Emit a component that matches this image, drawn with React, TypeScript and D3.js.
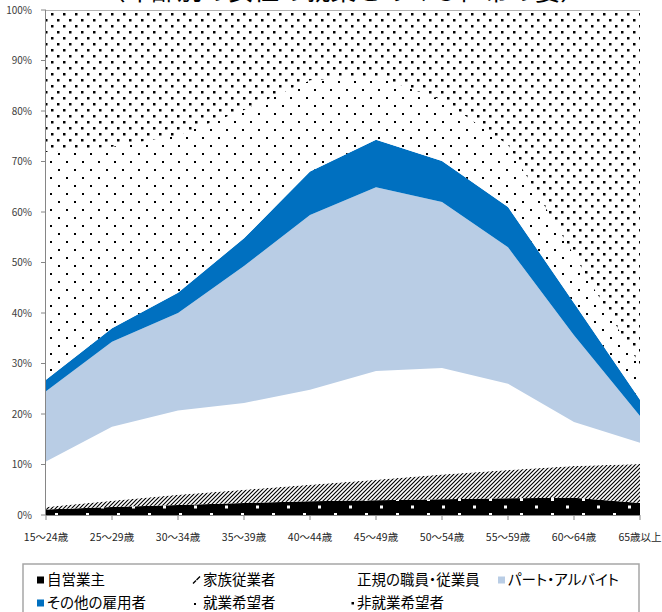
import React from 'react';
import * as d3 from 'd3';

const categories = ['15〜24歳', '25〜29歳', '30〜34歳', '35〜39歳', '40〜44歳', '45〜49歳', '50〜54歳', '55〜59歳', '60〜64歳', '65歳以上'];
const selfEmployed = [1.1, 1.6, 2.0, 2.4, 2.7, 2.9, 3.1, 3.3, 3.4, 2.4];
const familyWorkers = [0.5, 1.2, 2.0, 2.6, 3.3, 4.1, 4.9, 5.6, 6.3, 7.7];
const regularEmployees = [9.0, 14.7, 16.7, 17.2, 18.8, 21.5, 21.1, 17.1, 8.7, 4.2];
const partTime = [13.9, 16.8, 19.3, 27.1, 34.6, 36.4, 32.9, 27.0, 17.2, 5.3];
const otherEmployees = [2.3, 2.7, 4.0, 5.5, 8.6, 9.4, 8.1, 8.0, 6.4, 3.2];
const wantWork = [45.1, 35.9, 31.2, 25.4, 18.1, 12.6, 12.1, 12.3, 9.5, 6.9];
const notWantWork = [28.1, 27.1, 24.8, 19.8, 13.9, 13.1, 17.8, 26.7, 48.5, 70.3];
const yTicks = [0, 10, 20, 30, 40, 50, 60, 70, 80, 90, 100];
const seriesNames = ['自営業主', '家族従業者', '正規の職員・従業員', 'パート・アルバイト', 'その他の雇用者', '就業希望者', '非就業希望者'];
const titleText = '（年齢別の女性の就業をめぐる世帯の姿）';

const seriesValues = [selfEmployed, familyWorkers, regularEmployees, partTime, otherEmployees, wantWork, notWantWork];
const fills = ['url(#pSelf)', 'url(#pFamily)', '#FFFFFF', '#B9CDE5', '#0070C0', 'url(#pSparse)', 'url(#pDense)'];

const FONT = '"Noto Sans CJK JP", "Noto Sans", sans-serif';

export default function App() {
  const W = 662, H = 612;
  const left = 46, right = 640, top = 10, bottom = 515;
  const x = d3.scalePoint<string>().domain(categories).range([left, right]);
  const y = d3.scaleLinear().domain([0, 100]).range([bottom, top]);

  const rows = categories.map((c, i) => {
    const r: any = { cat: c };
    seriesNames.forEach((k, j) => { r[k] = seriesValues[j][i]; });
    return r;
  });
  const stacked = d3.stack<any>().keys(seriesNames)(rows);
  const area = d3.area<any>()
    .x((d) => x(d.data.cat) as number)
    .y0((d) => y(d[0]))
    .y1((d) => y(d[1]));

  const legendCols = [37, 193, 347, 498];
  const legendRows = [580, 603];

  const marker = (i: number, mx: number, my: number) => {
    if (i === 0) return <rect x={mx} y={my - 3.5} width={7} height={7} fill="#000" />;
    if (i === 1) return <path d={`M${mx},${my + 3.5} L${mx + 3},${my + 0.5} M${mx + 3.5},${my} L${mx + 7},${my - 3.5}`} stroke="#000" strokeWidth={1.4} fill="none" />;
    if (i === 2) return null;
    if (i === 5) return <rect x={mx + 1} y={my + 0} width={2} height={2} fill="#000" />;
    if (i === 6) return <rect x={mx + 4.5} y={my - 1} width={2.5} height={2.5} fill="#000" />;
    return <rect x={mx} y={my - 3.5} width={7} height={7} fill={fills[i]} />;
  };

  return (
    <svg width={W} height={H} style={{ position: 'absolute', left: 0, top: 0, display: 'block', background: '#fff' }}>
      <defs>
        <pattern id="pSelf" patternUnits="userSpaceOnUse" width={31} height={15}>
          <rect width={31} height={15} fill="#000" />
          <rect x={8} y={10.5} width={3} height={3} fill="#fff" />
          <rect x={24} y={3} width={3} height={3} fill="#fff" />
        </pattern>
        <pattern id="pFamily" patternUnits="userSpaceOnUse" width={4} height={4}>
          <rect width={4} height={4} fill="#fff" />
          <path d="M-1,1 l2,-2 M0,4 l4,-4 M3,5 l2,-2" stroke="#000" strokeWidth={1.15} />
        </pattern>
        <pattern id="pSparse" patternUnits="userSpaceOnUse" width={16} height={16}>
          <rect width={16} height={16} fill="#fff" />
          <rect x={10} y={9} width={2} height={2} fill="#000" />
          <rect x={2} y={1} width={2} height={2} fill="#000" />
        </pattern>
        <pattern id="pDense" patternUnits="userSpaceOnUse" width={12} height={12}>
          <rect width={12} height={12} fill="#fff" />
          <rect x={3} y={1} width={2.5} height={2.5} fill="#000" />
          <rect x={9} y={7} width={2.5} height={2.5} fill="#000" />
        </pattern>
      </defs>

      <text x={343} y={0} textAnchor="middle" fontFamily={FONT} fontSize={25.6} fill="#000">{titleText}</text>

      {stacked.map((s, i) => (
        <path key={s.key} d={area(s) || ''} fill={fills[i]} stroke="none" />
      ))}

      <line x1={left} x2={right} y1={top + 0.5} y2={top + 0.5} stroke="#B3B3B3" strokeWidth={1} />

      <line x1={left - 0.5} x2={left - 0.5} y1={top} y2={bottom} stroke="#868686" strokeWidth={1} />
      {yTicks.map((t) => (
        <g key={t}>
          <line x1={left - 5} x2={left} y1={y(t)} y2={y(t)} stroke="#868686" strokeWidth={1} />
          <text x={32} y={y(t)} dy="0.35em" textAnchor="end" fontFamily={FONT} fontSize={10} fill="#404040">{t + '%'}</text>
        </g>
      ))}

      <line x1={left} x2={right} y1={bottom + 0.5} y2={bottom + 0.5} stroke="#868686" strokeWidth={1} />
      {categories.map((c) => (
        <g key={c}>
          <line x1={x(c)} x2={x(c)} y1={bottom} y2={bottom + 5} stroke="#868686" strokeWidth={1} />
          <text x={x(c)} y={537} dy="0.35em" textAnchor="middle" fontFamily={FONT} fontSize={10.5} fill="#262626">{c}</text>
        </g>
      ))}

      <rect x={23} y={564} width={616} height={60} fill="#fff" stroke="#A6A6A6" strokeWidth={1.5} />
      {seriesNames.map((name, i) => {
        const col = i < 4 ? i : i - 4;
        const row = i < 4 ? 0 : 1;
        const mx = legendCols[col];
        const my = legendRows[row];
        return (
          <g key={name}>
            {marker(i, mx, my)}
            <text x={mx + 10} y={my} dy="0.35em" fontFamily={FONT} fontSize={14.5} fill="#000" style={{ fontFeatureSettings: '"palt"' }}>{name}</text>
          </g>
        );
      })}
    </svg>
  );
}
